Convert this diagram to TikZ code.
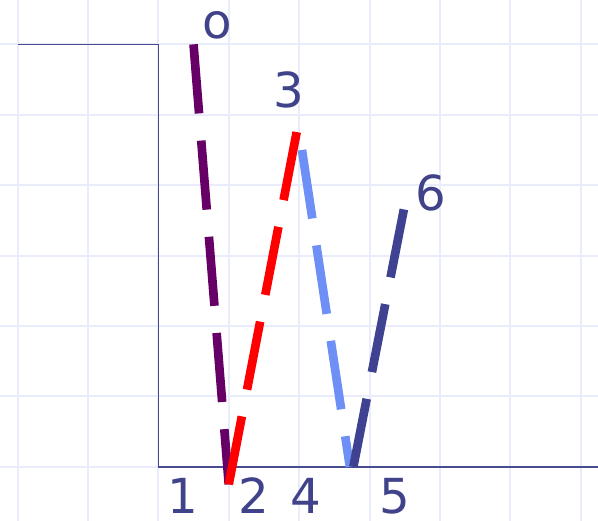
\documentclass[tikz,border=0pt]{standalone}
\usepackage{fontspec}
\setmainfont{DejaVu Sans}
\definecolor{gradegrid}{HTML}{E8ECFB}
\definecolor{eixo}{HTML}{4A4A8E}
\definecolor{rotulo}{HTML}{40428A}
\definecolor{roxo}{HTML}{660066}
\definecolor{azulclaro}{HTML}{6E8FF5}
\definecolor{azulescuro}{HTML}{3F4290}
\tikzset{
    raio/.style={line width=3.5pt, dash pattern=on 28pt off 11pt},
    marca/.style={text=rotulo, font=\fontsize{19.5}{22}\selectfont, inner sep=0pt}
}

\begin{document}
\begin{tikzpicture}
            \useasboundingbox (-0.249,-0.757) rectangle (8.245,6.63);
            % --- Grade de fundo ---
            \draw[gradegrid, line width=0.8pt] (-0.3,-0.8) grid (8.3,6.7);

            % --- Contorno (degrau) ---
            \draw[eixo, line width=0.65pt] (0,6) -- (2,6) -- (2,0) -- (8.3,0);

            % Pontos dos raios
            \coordinate (p0) at (2.5,6);
            \coordinate (p1) at (3,-0.25);
            \coordinate (p2) at (3.97,4.78);
            \coordinate (p3) at (4.04,4.5);
            \coordinate (p4) at (4.72,0);
            \coordinate (p5) at (4.77,0);
            \coordinate (p6) at (5.49,3.67);

            % --- Raios tracejados ---
            \draw[raio, roxo] (p0) -- (p1);
            \draw[raio, red] (p1) -- (p2);
            \draw[raio, azulclaro] (p3) -- (p4);
            \draw[raio, azulescuro] (p5) -- (p6);

            % Rotulos superiores
            \node[marca] (lo) at (2.84,6.27) {o};
            \node[marca] (l3) at (3.86,5.35) {3};
            \node[marca] (l6) at (5.87,3.89) {6};

            % Rotulos inferiores
            \node[marca] (l1) at (2.35,-0.415) {1};
            \node[marca] (l2) at (3.35,-0.415) {2};
            \node[marca] (l4) at (4.10,-0.415) {4};
            \node[marca] (l5) at (5.36,-0.415) {5};
\end{tikzpicture}
\end{document}
